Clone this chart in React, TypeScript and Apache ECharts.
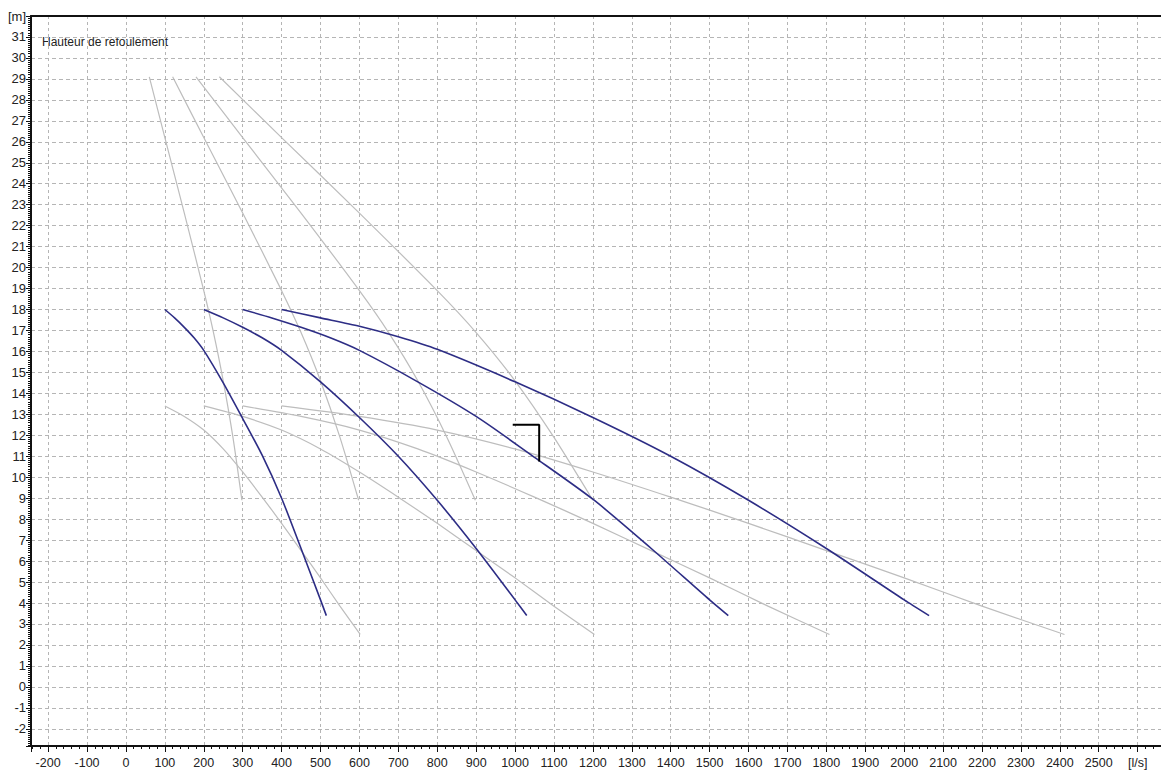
import React, { useEffect, useRef } from "react";
import * as echarts from "echarts";

// Pump curves (blue): Q [l/s], H [m] for 1..4 pumps in parallel
const pump1: [number, number][] = [[100, 18.0], [125, 17.6], [150, 17.15], [175, 16.65], [200, 16.05], [250, 14.5], [300, 12.8], [350, 11.05], [400, 9.0], [450, 6.6], [500, 4.15], [515, 3.4]];
const pump2: [number, number][] = [[200, 18.0], [250, 17.6], [300, 17.15], [350, 16.65], [400, 16.05], [500, 14.55], [600, 12.85], [700, 11.0], [800, 8.9], [900, 6.6], [1000, 4.15], [1030, 3.4]];
const pump3: [number, number][] = [[300, 18.0], [375, 17.6], [450, 17.15], [525, 16.65], [600, 16.05], [750, 14.55], [900, 12.9], [1050, 10.95], [1200, 8.95], [1350, 6.6], [1500, 4.15], [1548, 3.4]];
const pump4: [number, number][] = [[400, 18.0], [500, 17.6], [600, 17.2], [700, 16.7], [800, 16.1], [1000, 14.55], [1200, 12.85], [1400, 11.0], [1600, 8.9], [1800, 6.6], [2000, 4.15], [2064, 3.4]];

// Upper grey curves
const upper1: [number, number][] = [[60, 29.1], [100, 26.2], [150, 22.6], [200, 18.9], [225, 16.9], [250, 14.6], [275, 11.9], [298, 8.9]];
const upper2: [number, number][] = [[120, 29.1], [200, 26.2], [300, 22.6], [400, 18.9], [450, 16.9], [500, 14.6], [550, 11.9], [598, 8.9]];
const upper3: [number, number][] = [[180, 29.1], [300, 26.2], [450, 22.6], [600, 18.9], [675, 16.9], [750, 14.6], [825, 11.9], [898, 8.9]];
const upper4: [number, number][] = [[240, 29.1], [400, 26.2], [600, 22.6], [800, 18.9], [900, 16.9], [1000, 14.6], [1100, 11.9], [1200, 8.9]];

// Lower grey curves
const lower1: [number, number][] = [[100, 13.4], [150, 12.9], [200, 12.25], [250, 11.35], [300, 10.25], [350, 9.05], [400, 7.8], [450, 6.5], [500, 5.2], [550, 3.85], [602, 2.5]];
const lower2: [number, number][] = [[200, 13.4], [300, 12.9], [400, 12.25], [500, 11.35], [600, 10.25], [700, 9.05], [800, 7.8], [900, 6.5], [1000, 5.2], [1100, 3.85], [1204, 2.5]];
const lower3: [number, number][] = [[300, 13.4], [450, 12.9], [600, 12.25], [750, 11.35], [900, 10.25], [1050, 9.05], [1200, 7.8], [1350, 6.5], [1500, 5.2], [1650, 3.85], [1808, 2.5]];
const lower4: [number, number][] = [[400, 13.4], [600, 12.9], [800, 12.25], [1000, 11.35], [1200, 10.25], [1400, 9.05], [1600, 7.8], [1800, 6.5], [2000, 5.2], [2200, 3.85], [2412, 2.5]];

// Duty point marker
const marker: [number, number][] = [[994, 12.5], [1062, 12.5], [1062, 10.75]];

const chartTitle = "Hauteur de refoulement";
const xUnitLabel = "[l/s]";
const yUnitLabel = "[m]";
const xUnitTick = 2600;
const yUnitTick = 32;

export default function App() {
  const ref = useRef<HTMLDivElement>(null);
  useEffect(() => {
    const chart = echarts.init(ref.current!, null, { renderer: "svg" });
    const font = "'Liberation Sans', Arial, sans-serif";
    const grey = (data: [number, number][]) => ({
      type: "line", data, symbol: "none", smooth: 0.25, silent: true, z: 2,
      lineStyle: { color: "#bdbdbd", width: 1.2 },
    });
    const blue = (data: [number, number][]) => ({
      type: "line", data, symbol: "none", smooth: 0.25, silent: true, z: 3,
      lineStyle: { color: "#2d2d85", width: 1.6 },
    });
    const xMin = -244, xMax = 2660, yMin = -2.82, yMax = 32;
    chart.setOption({
      animation: false,
      backgroundColor: "#ffffff",
      grid: { left: 31, right: 0, top: 16, bottom: 30, containLabel: false },
      graphic: [
        {
          type: "text", left: 42, top: 36,
          style: { text: chartTitle, fill: "#222", font: `12px ${font}` },
        },
      ],
      xAxis: [
        {
          type: "value", min: xMin, max: xMax, splitNumber: 29, minInterval: 100, maxInterval: 100,
          axisLine: { onZero: false, lineStyle: { color: "#111", width: 2 } },
          axisTick: { length: 6, lineStyle: { color: "#111" } },
          minorTick: { show: true, splitNumber: 5, length: 3, lineStyle: { color: "#111" } },
          axisLabel: {
            showMinLabel: false, showMaxLabel: false, margin: 10, fontSize: 12.5, color: "#222", fontFamily: font,
            formatter: (v: number) => (v === xUnitTick ? xUnitLabel : String(v)),
          },
          splitLine: { show: true, lineStyle: { color: "#b5b5b5", type: [3, 3], width: 1 } },
        },
        {
          type: "value", position: "top", min: xMin, max: xMax,
          axisLine: { show: true, onZero: false, lineStyle: { color: "#111", width: 2 } },
          axisTick: { show: false }, axisLabel: { show: false }, splitLine: { show: false },
        },
      ],
      yAxis: {
        type: "value", min: yMin, max: yMax, splitNumber: 35, minInterval: 1, maxInterval: 1,
        axisLine: { onZero: false, lineStyle: { color: "#111", width: 2 } },
        axisTick: { length: 5, lineStyle: { color: "#111" } },
        minorTick: { show: true, splitNumber: 10, length: 3, lineStyle: { color: "#111" } },
        axisLabel: {
          showMinLabel: false, margin: 5, fontSize: 13, color: "#222", fontFamily: font,
          formatter: (v: number) => (v === yUnitTick ? yUnitLabel : String(v)),
        },
        splitLine: { show: true, lineStyle: { color: "#b5b5b5", type: [4, 3], width: 1 } },
      },
      series: [
        grey(upper1), grey(upper2), grey(upper3), grey(upper4),
        grey(lower1), grey(lower2), grey(lower3), grey(lower4),
        blue(pump1), blue(pump2), blue(pump3), blue(pump4),
        {
          type: "line", data: marker, symbol: "none", silent: true, z: 4,
          lineStyle: { color: "#000", width: 2 },
        },
      ],
    });
    return () => chart.dispose();
  }, []);
  return (
    <div
      ref={ref}
      style={{ position: "absolute", left: 0, top: 0, width: 1161, height: 776 }}
    />
  );
}
